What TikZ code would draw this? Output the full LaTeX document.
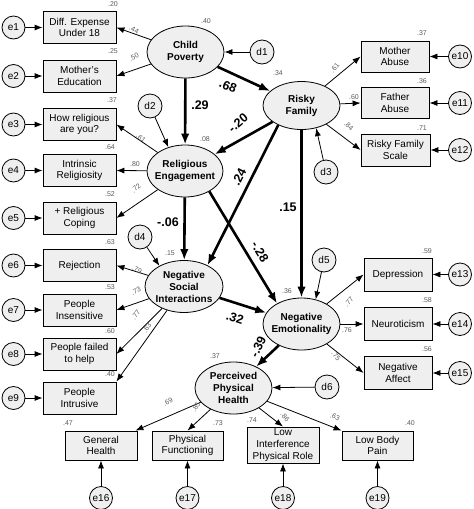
\documentclass[tikz,border=0pt]{standalone}
\usepackage{fontspec}
\setmainfont{Liberation Sans}
\usetikzlibrary{shapes.geometric,arrows.meta}
\definecolor{boxfill}{HTML}{EFEFEF}
\definecolor{lbl}{HTML}{5A5A5A}
\begin{document}
\begin{tikzpicture}[x=1pt,y=-1pt,
  obs/.style={draw, fill=boxfill, line width=0.8pt, inner sep=0pt, align=center,
    minimum width=73pt, minimum height=32pt, font=\fontsize{10}{11.6}\selectfont},
  lat/.style={draw, ellipse, fill=boxfill, line width=0.8pt, inner xsep=-4pt, inner ysep=0pt,
    minimum width=77pt, minimum height=52pt, align=center,
    font=\bfseries\fontsize{10}{12}\selectfont},
  err/.style={draw, circle, fill=boxfill, line width=0.8pt, minimum size=23pt, inner sep=0pt,
    font=\fontsize{10}{12}\selectfont},
  ar/.style={-{Latex[length=8pt,width=6pt]}, line width=0.8pt},
  thk/.style={-{Latex[length=11pt,width=8.5pt]}, line width=2.6pt},
  small/.style={font=\fontsize{7}{8}\selectfont, text=lbl, inner sep=0pt},
  coef/.style={font=\bfseries\fontsize{12.5}{14}\selectfont, inner sep=0pt}]
\useasboundingbox (0,0) rectangle (474,509);

% observed boxes left
\node[obs] (x1) at (79.5,27.5) {Diff. Expense\\Under 18};
\node[obs] (x2) at (79.5,76) {Mother's\\Education};
\node[obs] (x3) at (79.5,124.5) {How religious\\are you?};
\node[obs] (x4) at (79.5,170.5) {Intrinsic\\Religiosity};
\node[obs] (x5) at (79.5,218) {+ Religious\\Coping};
\node[obs] (x6) at (79.5,265.5) {Rejection};
\node[obs] (x7) at (79.5,310) {People\\Insensitive};
\node[obs] (x8) at (79.5,354) {People failed\\to help};
\node[obs] (x9) at (79.5,398) {People\\Intrusive};
% right boxes
\node[obs, minimum width=68pt, minimum height=31pt] (x10) at (395,56.5) {Mother\\Abuse};
\node[obs, minimum width=68pt, minimum height=31pt] (x11) at (395,103) {Father\\Abuse};
\node[obs, minimum width=69pt, minimum height=32pt] (x12) at (395.5,150) {Risky Family\\Scale};
\node[obs, minimum width=68pt, minimum height=33pt] (x13) at (398,274.5) {Depression};
\node[obs, minimum width=68pt, minimum height=33pt] (x14) at (398,324) {Neuroticism};
\node[obs, minimum width=68pt, minimum height=33pt] (x15) at (398,373) {Negative\\Affect};
% bottom boxes
\node[obs, minimum width=72pt, minimum height=29pt] (x16) at (101,445.5) {General\\Health};
\node[obs, minimum width=71pt, minimum height=29pt] (x17) at (187.5,445.5) {Physical\\Functioning};
\node[obs, minimum width=72pt, minimum height=36pt] (x18) at (283,445) {Low\\Interference\\Physical Role};
\node[obs, minimum width=71pt, minimum height=29pt] (x19) at (377.5,445.5) {Low Body\\Pain};

% latent variables
\node[lat] (cp) at (185.5,52) {Child\\Poverty};
\node[lat, minimum height=48pt] (rf) at (301.5,105.5) {Risky\\Family};
\node[lat, minimum width=76pt] (re) at (185,171) {Religious\\Engagement};
\node[lat, minimum width=78pt] (nsi) at (184,286.5) {Negative\\Social\\Interactions};
\node[lat] (ne) at (301.5,324) {Negative\\Emotionality};
\node[lat] (pph) at (233.5,388) {Perceived\\Physical\\Health};

% error terms
\foreach \i/\y in {1/27.5,2/76,3/124.5,4/170.5,5/218,6/265.5,7/310,8/354,9/398}
  \node[err] (e\i) at (13.5,\y) {e\i};
\foreach \i/\y in {10/56.5,11/103,12/150,13/274.5,14/324,15/373}
  \node[err] (e\i) at (460,\y) {e\i};
\foreach \i/\x in {16/101,17/187.5,18/283,19/377.5}
  \node[err] (e\i) at (\x,498) {e\i};
\foreach \i in {1,...,19}
  \draw[ar] (e\i) -- (x\i);

% disturbances
\node[err, minimum size=24pt] (d1) at (262,52) {d1};
\node[err, minimum size=24pt] (d2) at (150,106) {d2};
\node[err, minimum size=24pt] (d3) at (326,172) {d3};
\node[err, minimum size=24pt] (d4) at (140,237) {d4};
\node[err, minimum size=24pt] (d5) at (324,260) {d5};
\node[err, minimum size=24pt] (d6) at (327,387) {d6};
\draw[ar] (d1) -- (cp);
\draw[ar] (d2) -- (re.125);
\draw[ar] (d3) -- (rf.-57);
\draw[ar] (d4) -- (nsi.140);
\draw[ar] (d5) -- (ne.60);
\draw[ar] (d6) -- (pph);

% measurement paths
\draw[ar] (cp) -- (x1.east);
\draw[ar] (cp) -- (x2.east);
\draw[ar] (re) -- (x3.east);
\draw[ar] (re) -- (x4.east);
\draw[ar] (re) -- (x5.east);
\draw[ar] (nsi) -- (x6.east);
\draw[ar] (nsi) -- (x7.east);
\draw[ar] (nsi) -- (x8.east);
\draw[ar] (nsi) -- (x9.north east);
\draw[ar] (rf) -- (x10.west);
\draw[ar] (rf) -- (x11.west);
\draw[ar] (rf) -- (x12.west);
\draw[ar] (ne) -- (x13.west);
\draw[ar] (ne) -- (x14.west);
\draw[ar] (ne) -- (x15.west);
\draw[ar] (pph) -- ([xshift=-2pt]x16.north east);
\draw[ar] (pph) -- (x17.north);
\draw[ar] (pph) -- (x18.north);
\draw[ar] (pph) -- (x19.north west);

% structural paths
\draw[thk] (cp) -- (rf);
\draw[thk] (cp) -- (re);
\draw[thk] (rf) -- (re);
\draw[thk] (rf.220) -- (nsi.42);
\draw[thk] (re) -- (nsi);
\draw[thk] (re.-40) -- (ne.140);
\draw[thk] (rf) -- (ne);
\draw[thk] (nsi) -- (ne);
\draw[thk] (ne) -- (pph);

% coefficients
\node[coef, rotate=-22] (c1) at (228,86) {.68};
\node[coef] (c2) at (200,105) {.29};
\node[coef, rotate=40] (c3) at (238,123) {-.20};
\node[coef, rotate=63] (c4) at (239,177) {.24};
\node[coef] (c5) at (168,222) {-.06};
\node[coef, rotate=-59] (c6) at (260,252) {-.28};
\node[coef] (c7) at (288,207) {.15};
\node[coef, rotate=-18] (c8) at (235,318) {.32};
\node[coef, rotate=65] (c9) at (258,347) {-.39};

% loadings
\node[small, rotate=-27] (l1) at (134,30) {.44};
\node[small, rotate=25] (l2) at (134,57) {.50};
\node[small, rotate=-38] (l3) at (141,138) {.61};
\node[small] (l4) at (135,164) {.80};
\node[small, rotate=40] (l5) at (136,188) {.72};
\node[small, rotate=-27] (l6) at (137,270) {.79};
\node[small, rotate=25] (l7) at (136,291) {.73};
\node[small, rotate=52] (l8) at (136,315) {.77};
\node[small, rotate=56] (l9) at (147,328) {.63};
\node[small, rotate=50] (l10) at (335,68) {.61};
\node[small] (l11) at (354,97) {.60};
\node[small, rotate=-45] (l12) at (349,126) {.84};
\node[small, rotate=47] (l13) at (349,302) {.77};
\node[small] (l14) at (347,330) {.76};
\node[small, rotate=-50] (l15) at (336,356) {.75};
\node[small, rotate=30] (l16) at (168,402) {.69};
\node[small, rotate=58] (l17) at (196,407) {.85};
\node[small, rotate=-50] (l18) at (285,417) {.86};
\node[small, rotate=-25] (l19) at (335,417) {.63};

% R squared
\node[small] (r1) at (113,4) {.20};
\node[small] (r2) at (113,51) {.25};
\node[small] (r3) at (112,100) {.37};
\node[small] (r4) at (110,147) {.64};
\node[small] (r5) at (110,194) {.52};
\node[small] (r6) at (110,242) {.63};
\node[small] (r7) at (110,287) {.53};
\node[small] (r8) at (110,331) {.60};
\node[small] (r9) at (110,374) {.40};
\node[small] (rcp) at (206,21) {.40};
\node[small] (rrf) at (278,73) {.34};
\node[small] (r10) at (422,33) {.37};
\node[small] (r11) at (422,81) {.36};
\node[small] (r12) at (422,128) {.71};
\node[small] (rre) at (205,139) {.08};
\node[small] (rnsi) at (170,253) {.15};
\node[small] (rne) at (287,291) {.36};
\node[small] (r13) at (427,251) {.59};
\node[small] (r14) at (427,300) {.58};
\node[small] (r15) at (427,349) {.56};
\node[small] (rpph) at (215,356) {.37};
\node[small] (r16) at (68,423) {.47};
\node[small] (r17) at (218,423) {.73};
\node[small] (r18) at (252,420) {.74};
\node[small] (r19) at (410,423) {.40};
\end{tikzpicture}
\end{document}
